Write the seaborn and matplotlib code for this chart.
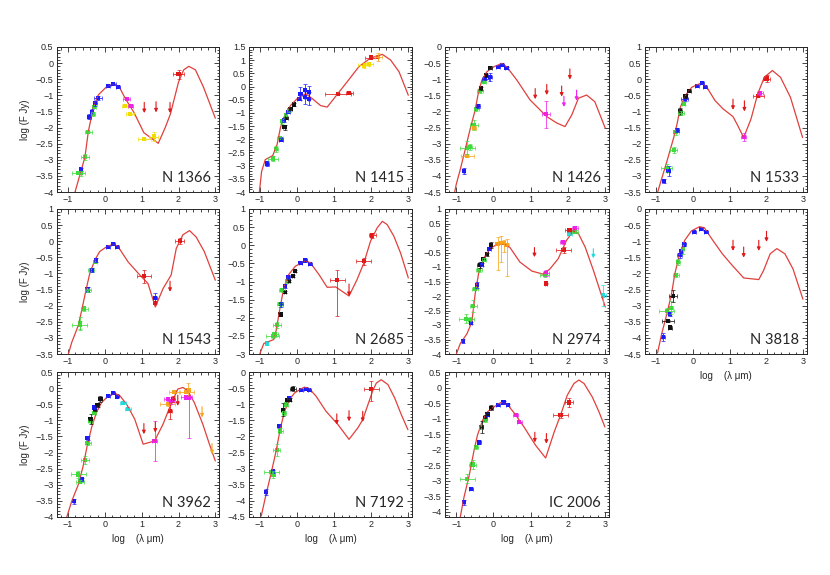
import matplotlib
matplotlib.use("Agg")
import matplotlib.pyplot as plt
from matplotlib.ticker import MultipleLocator, FuncFormatter
import seaborn as sns
import pandas as pd

# band code -> colour of the photometry source
PALETTE = {'b': '#1a1aff', 'g': '#3ddc3d', 'k': '#111111', 'y': '#f2dc00',
           'm': '#ee22ee', 'r': '#e01818', 'o': '#f7a51c', 'c': '#22dddd'}
MODEL_COLOR = '#e0403c'

# ---------------- N 1366
N1366_MX = [-0.81, -0.54, -0.45, -0.31, -0.18, 0.05, 0.23, 0.41, 0.56, 0.79, 1.06, 1.37, 1.45, 1.64, 1.78, 2.0, 2.14, 2.28, 2.46, 2.68, 3.0]
N1366_MY = [-4.0, -2.91, -2.13, -1.35, -0.99, -0.73, -0.65, -0.78, -1.11, -1.53, -2.16, -2.42, -2.49, -2.0, -1.58, -0.59, -0.21, -0.1, -0.21, -0.75, -1.71]
N1366_PTS = [(-0.65, -3.29, 0.03, 0.05, 'b'), (-0.72, -3.40, 0.18, 0.05, 'g'), (-0.66, -3.42, 0.05, 0.08, 'g'),
             (-0.54, -2.92, 0.10, 0.10, 'g'), (-0.45, -2.15, 0.10, 0.03, 'g'), (-0.42, -1.66, 0.04, 0.08, 'b'),
             (-0.36, -1.51, 0.05, 0.08, 'b'), (-0.33, -1.58, 0.05, 0.06, 'g'), (-0.29, -1.35, 0.04, 0.05, 'g'),
             (-0.27, -1.25, 0.05, 0.07, 'b'), (-0.19, -1.09, 0.10, 0.07, 'b'), (0.09, -0.71, 0.06, 0.03, 'b'),
             (0.23, -0.66, 0.06, 0.03, 'b'), (0.36, -0.75, 0.05, 0.03, 'b'), (0.59, -1.12, 0.10, 0.03, 'm'),
             (0.55, -1.33, 0.08, 0.03, 'y'), (0.70, -1.33, 0.07, 0.03, 'm'), (0.68, -1.58, 0.10, 0.03, 'y'),
             (1.07, -2.35, 0.18, 0.03, 'y'), (1.33, -2.28, 0.12, 0.14, 'y'), (2.00, -0.35, 0.15, 0.13, 'r')]
N1366_UL = [(1.07, -1.55, 'r'), (1.39, -1.53, 'r'), (1.77, -1.55, 'r')]

# ---------------- N 1415
N1415_MX = [-1.02, -0.96, -0.86, -0.66, -0.54, -0.45, -0.36, -0.18, 0.0, 0.23, 0.41, 0.63, 0.81, 0.99, 1.35, 1.67, 1.98, 2.3, 2.52, 2.75, 3.0]
N1415_MY = [-4.0, -3.22, -2.77, -2.62, -2.19, -1.55, -1.17, -0.72, -0.46, -0.27, -0.46, -0.72, -0.78, -0.46, 0.18, 0.76, 1.08, 1.22, 1.01, 0.56, -0.33]
N1415_PTS = [(-0.81, -2.92, 0.04, 0.08, 'b'), (-0.65, -2.73, 0.13, 0.10, 'g'), (-0.56, -2.38, 0.05, 0.12, 'g'),
             (-0.47, -1.94, 0.08, 0.04, 'g'), (-0.43, -2.01, 0.05, 0.06, 'b'), (-0.41, -1.32, 0.06, 0.10, 'g'),
             (-0.36, -1.28, 0.04, 0.08, 'b'), (-0.34, -1.55, 0.03, 0.10, 'k'), (-0.31, -1.10, 0.04, 0.08, 'g'),
             (-0.29, -1.19, 0.03, 0.05, 'k'), (-0.24, -0.97, 0.05, 0.05, 'b'), (-0.22, -0.90, 0.05, 0.06, 'g'),
             (-0.18, -0.85, 0.03, 0.05, 'k'), (-0.09, -0.68, 0.04, 0.05, 'k'), (0.05, -0.46, 0.05, 0.05, 'b'),
             (0.09, -0.27, 0.03, 0.25, 'b'), (0.21, -0.14, 0.03, 0.25, 'b'), (0.21, -0.40, 0.03, 0.25, 'b'),
             (0.33, -0.22, 0.03, 0.25, 'b'), (0.33, -0.46, 0.03, 0.25, 'b'), (1.10, -0.27, 0.35, 0.03, 'r'),
             (1.41, -0.26, 0.10, 0.03, 'r'), (1.80, 0.80, 0.15, 0.08, 'y'), (1.95, 0.85, 0.10, 0.08, 'y'),
             (2.00, 1.10, 0.18, 0.03, 'r'), (2.19, 1.12, 0.10, 0.15, 'o')]
N1415_UL = []

# ---------------- N 1426
N1426_MX = [-1.04, -1.0, -0.89, -0.76, -0.63, -0.49, -0.40, -0.31, -0.18, 0.0, 0.22, 0.36, 0.63, 0.98, 1.43, 1.70, 1.92, 2.10, 2.28, 2.50, 2.72, 3.0]
N1426_MY = [-4.5, -4.27, -3.8, -3.19, -2.57, -1.95, -1.39, -1.03, -0.77, -0.62, -0.51, -0.62, -1.03, -1.64, -2.16, -2.36, -2.47, -2.11, -1.59, -1.49, -1.70, -2.52]
N1426_PTS = [(-0.80, -3.85, 0.03, 0.10, 'b'), (-0.70, -3.37, 0.17, 0.03, 'o'), (-0.70, -3.13, 0.20, 0.20, 'g'),
             (-0.62, -3.10, 0.05, 0.10, 'g'), (-0.52, -2.42, 0.10, 0.15, 'g'), (-0.52, -2.50, 0.05, 0.05, 'o'),
             (-0.46, -1.93, 0.07, 0.05, 'g'), (-0.41, -1.83, 0.04, 0.07, 'b'), (-0.36, -1.37, 0.08, 0.05, 'g'),
             (-0.34, -1.28, 0.04, 0.05, 'k'), (-0.25, -1.08, 0.04, 0.05, 'g'), (-0.22, -0.98, 0.10, 0.05, 'b'),
             (-0.20, -0.88, 0.04, 0.05, 'k'), (-0.09, -0.93, 0.04, 0.12, 'b'), (-0.09, -0.64, 0.05, 0.05, 'k'),
             (0.13, -0.62, 0.05, 0.03, 'b'), (0.22, -0.57, 0.05, 0.03, 'b'), (0.35, -0.64, 0.05, 0.03, 'b'),
             (1.41, -2.09, 0.10, 0.42, 'm')]
N1426_UL = [(1.12, -1.62, 'r'), (1.43, -1.49, 'r'), (1.83, -1.54, 'r'), (2.05, -1.01, 'r'),
            (1.89, -1.86, 'm'), (2.23, -1.67, 'm')]

# ---------------- N 1533
N1533_MX = [-0.96, -0.88, -0.70, -0.52, -0.43, -0.34, -0.21, -0.03, 0.24, 0.38, 0.60, 0.82, 1.09, 1.22, 1.38, 1.58, 1.76, 1.94, 2.16, 2.38, 2.65, 2.98]
N1533_MY = [-3.52, -3.21, -2.53, -1.81, -1.39, -0.87, -0.51, -0.25, -0.11, -0.25, -0.66, -0.92, -1.16, -1.44, -1.81, -1.23, -0.46, 0.06, 0.27, 0.06, -0.56, -1.81]
N1533_PTS = [(-0.79, -3.16, 0.04, 0.06, 'b'), (-0.71, -2.76, 0.15, 0.12, 'g'), (-0.66, -2.85, 0.04, 0.15, 'b'),
             (-0.52, -2.19, 0.10, 0.10, 'g'), (-0.47, -1.65, 0.08, 0.08, 'g'), (-0.43, -1.58, 0.04, 0.06, 'b'),
             (-0.34, -1.00, 0.04, 0.12, 'k'), (-0.33, -1.05, 0.08, 0.05, 'g'), (-0.25, -0.76, 0.04, 0.05, 'g'),
             (-0.22, -0.62, 0.10, 0.05, 'b'), (-0.20, -0.52, 0.04, 0.05, 'k'), (-0.10, -0.36, 0.05, 0.05, 'k'),
             (0.11, -0.20, 0.05, 0.03, 'b'), (0.24, -0.13, 0.05, 0.03, 'b'), (0.33, -0.23, 0.05, 0.03, 'b'),
             (1.38, -1.79, 0.07, 0.12, 'm'), (1.78, -0.51, 0.14, 0.03, 'r'), (1.82, -0.42, 0.08, 0.06, 'm'),
             (2.00, 0.02, 0.10, 0.10, 'r')]
N1533_UL = [(1.09, -0.95, 'r'), (1.40, -1.00, 'r')]

# ---------------- N 1543
N1543_MX = [-0.99, -0.90, -0.72, -0.63, -0.51, -0.41, -0.27, -0.14, 0.05, 0.23, 0.36, 0.63, 0.95, 1.17, 1.37, 1.58, 1.80, 1.94, 2.12, 2.30, 2.48, 2.70, 3.0]
N1543_MY = [-3.5, -3.14, -2.61, -2.15, -1.5, -1.0, -0.58, -0.32, -0.17, -0.09, -0.17, -0.64, -1.05, -1.31, -2.04, -1.47, -1.05, -0.22, 0.2, 0.33, 0.13, -0.32, -1.21]
N1543_PTS = [(-0.68, -2.60, 0.20, 0.12, 'g'), (-0.68, -2.55, 0.04, 0.20, 'g'), (-0.56, -2.09, 0.10, 0.06, 'g'),
             (-0.47, -1.50, 0.04, 0.07, 'b'), (-0.45, -1.52, 0.08, 0.05, 'g'), (-0.38, -0.90, 0.08, 0.06, 'g'),
             (-0.36, -0.90, 0.04, 0.06, 'b'), (-0.27, -0.64, 0.05, 0.05, 'g'), (-0.25, -0.58, 0.04, 0.05, 'b'),
             (0.09, -0.17, 0.05, 0.03, 'b'), (0.23, -0.09, 0.05, 0.03, 'b'), (0.33, -0.19, 0.05, 0.03, 'b'),
             (1.06, -1.09, 0.20, 0.20, 'r'), (1.36, -1.76, 0.05, 0.15, 'b'), (1.36, -1.93, 0.03, 0.03, 'r'),
             (2.03, 0.01, 0.12, 0.10, 'r')]
N1543_UL = [(1.77, -1.57, 'r')]

# ---------------- N 2685
N2685_MX = [-1.01, -0.90, -0.63, -0.56, -0.47, -0.36, -0.23, -0.05, 0.23, 0.36, 0.59, 0.81, 1.04, 1.40, 1.62, 1.80, 1.98, 2.16, 2.30, 2.43, 2.61, 2.79, 3.0]
N2685_MY = [-3.0, -2.71, -2.6, -2.32, -1.77, -1.17, -0.81, -0.58, -0.42, -0.49, -0.81, -1.16, -1.15, -1.4, -0.94, -0.49, 0.11, 0.48, 0.66, 0.57, 0.25, -0.21, -0.9]
N2685_PTS = [(-0.81, -2.71, 0.03, 0.03, 'c'), (-0.66, -2.50, 0.17, 0.05, 'g'), (-0.61, -2.46, 0.08, 0.06, 'g'),
             (-0.54, -2.20, 0.10, 0.08, 'g'), (-0.45, -1.91, 0.03, 0.03, 'k'), (-0.47, -1.63, 0.07, 0.07, 'g'),
             (-0.43, -1.63, 0.04, 0.06, 'b'), (-0.41, -1.24, 0.08, 0.06, 'g'), (-0.33, -1.13, 0.04, 0.06, 'b'),
             (-0.32, -1.29, 0.03, 0.03, 'k'), (-0.27, -0.99, 0.05, 0.05, 'g'), (-0.24, -0.87, 0.04, 0.05, 'b'),
             (-0.21, -0.99, 0.03, 0.03, 'k'), (-0.12, -0.84, 0.03, 0.03, 'k'), (-0.05, -0.71, 0.03, 0.03, 'k'),
             (0.09, -0.49, 0.05, 0.03, 'b'), (0.22, -0.42, 0.05, 0.03, 'b'), (0.34, -0.51, 0.05, 0.03, 'b'),
             (1.08, -0.96, 0.20, (0.99, 0.29), 'r'), (1.80, -0.44, 0.20, 0.10, 'r'), (2.03, 0.27, 0.10, 0.08, 'r')]
N2685_UL = [(1.40, -1.40, 'r')]

# ---------------- N 2974
N2974_MX = [-1.0, -0.89, -0.71, -0.58, -0.49, -0.40, -0.27, -0.09, 0.09, 0.27, 0.45, 0.71, 1.03, 1.34, 1.52, 1.74, 1.96, 2.14, 2.28, 2.46, 2.68, 2.90, 3.0]
N2974_MY = [-4.02, -3.64, -3.3, -2.9, -1.92, -1.23, -0.71, -0.37, -0.22, -0.2, -0.34, -0.83, -1.14, -1.25, -1.06, -0.71, -0.08, 0.24, 0.15, -0.31, -1.11, -1.98, -2.38]
N2974_PTS = [(-0.82, -3.56, 0.03, 0.07, 'b'), (-0.73, -2.78, 0.20, 0.15, 'g'), (-0.64, -2.82, 0.05, 0.10, 'g'),
             (-0.61, -2.93, 0.04, 0.05, 'b'), (-0.54, -2.34, 0.10, 0.20, 'g'), (-0.49, -1.75, 0.08, 0.05, 'g'),
             (-0.45, -1.63, 0.04, 0.10, 'b'), (-0.38, -1.11, 0.08, 0.06, 'g'), (-0.36, -0.94, 0.08, 0.10, 'k'),
             (-0.31, -0.91, 0.04, 0.05, 'b'), (-0.27, -0.71, 0.04, 0.05, 'k'), (-0.25, -0.75, 0.05, 0.05, 'g'),
             (-0.18, -0.56, 0.04, 0.05, 'k'), (-0.11, -0.37, 0.04, 0.05, 'b'), (-0.07, -0.25, 0.04, 0.10, 'k'),
             (0.11, -0.20, 0.08, (0.9, 0.25), 'o'), (0.20, -0.18, 0.08, (0.65, 0.25), 'o'),
             (0.28, -0.18, 0.08, (0.3, 0.1), 'o'), (0.35, -0.25, 0.06, (1.05, 0.2), 'o'),
             (1.41, -1.21, 0.07, 0.10, 'm'), (1.38, -1.29, 0.12, 0.06, 'g'), (1.41, -1.57, 0.02, 0.03, 'r'),
             (1.88, -0.40, 0.20, 0.10, 'r'), (1.86, -0.15, 0.07, 0.07, 'm'), (2.04, 0.15, 0.08, 0.05, 'c'),
             (2.04, 0.26, 0.13, 0.03, 'r'), (2.19, 0.34, 0.08, 0.06, 'm'), (2.19, 0.21, 0.08, 0.05, 'g'),
             (2.95, -1.98, 0.07, 0.35, 'c')]
N2974_UL = [(1.10, -0.66, 'r'), (2.68, -0.70, 'c')]

# ---------------- N 3818
N3818_MX = [-0.96, -0.85, -0.71, -0.58, -0.49, -0.36, -0.22, -0.04, 0.18, 0.31, 0.54, 0.80, 1.07, 1.38, 1.79, 1.92, 2.10, 2.28, 2.50, 2.72, 2.99]
N3818_MY = [-4.47, -3.89, -3.27, -2.64, -2.01, -1.39, -0.97, -0.68, -0.55, -0.58, -0.97, -1.39, -1.75, -2.14, -2.19, -1.91, -1.39, -1.23, -1.39, -1.86, -2.8]
N3818_PTS = [(-0.80, -3.98, 0.03, 0.12, 'b'), (-0.67, -3.48, 0.17, 0.03, 'k'), (-0.63, -3.68, 0.05, 0.05, 'k'),
             (-0.71, -3.17, 0.20, 0.10, 'g'), (-0.63, -3.27, 0.04, 0.06, 'b'), (-0.60, -3.06, 0.05, 0.20, 'g'),
             (-0.54, -2.70, 0.10, 0.20, 'k'), (-0.45, -2.05, 0.08, 0.05, 'g'), (-0.40, -1.65, 0.04, 0.10, 'g'),
             (-0.36, -1.44, 0.07, 0.08, 'b'), (-0.33, -1.30, 0.03, 0.06, 'b'), (-0.27, -1.25, 0.04, 0.15, 'g'),
             (-0.25, -1.10, 0.05, 0.05, 'b'), (0.04, -0.71, 0.05, 0.03, 'b'), (0.22, -0.62, 0.05, 0.03, 'b'),
             (0.36, -0.71, 0.05, 0.03, 'b')]
N3818_UL = [(1.09, -1.30, 'r'), (1.38, -1.51, 'r'), (1.79, -1.30, 'r'), (2.00, -1.02, 'r')]

# ---------------- N 3962
N3962_MX = [-1.04, -0.90, -0.72, -0.59, -0.48, -0.36, -0.23, -0.09, 0.05, 0.27, 0.41, 0.59, 0.81, 1.04, 1.35, 1.58, 1.76, 1.98, 2.12, 2.25, 2.43, 2.66, 2.84, 3.0]
N3962_MY = [-4.02, -3.51, -2.99, -2.42, -1.79, -1.22, -0.76, -0.45, -0.29, -0.16, -0.24, -0.5, -0.96, -1.74, -1.64, -1.12, -0.6, -0.03, 0.02, -0.08, -0.45, -1.12, -1.74, -2.26]
N3962_PTS = [(-0.84, -3.51, 0.03, 0.08, 'b'), (-0.63, -2.83, 0.04, 0.05, 'b'), (-0.72, -2.68, 0.20, 0.10, 'g'),
             (-0.68, -2.90, 0.10, 0.05, 'g'), (-0.54, -2.23, 0.10, 0.12, 'g'), (-0.47, -1.71, 0.08, 0.05, 'g'),
             (-0.47, -1.54, 0.04, 0.06, 'b'), (-0.39, -1.02, 0.08, 0.06, 'g'), (-0.39, -0.96, 0.03, 0.15, 'k'),
             (-0.29, -0.76, 0.05, 0.05, 'g'), (-0.27, -0.65, 0.04, 0.05, 'k'), (-0.28, -0.60, 0.04, 0.05, 'b'),
             (-0.20, -0.53, 0.04, 0.05, 'k'), (-0.12, -0.34, 0.04, 0.10, 'k'), (0.09, -0.24, 0.05, 0.03, 'b'),
             (0.23, -0.16, 0.05, 0.03, 'b'), (0.33, -0.26, 0.05, 0.03, 'b'), (0.50, -0.47, 0.08, 0.03, 'c'),
             (0.63, -0.65, 0.08, 0.03, 'c'), (1.35, -1.64, 0.07, 0.62, 'm'), (1.76, -0.71, 0.05, 0.25, 'r'),
             (1.71, -0.50, 0.20, 0.05, 'o'), (1.71, -0.34, 0.10, 0.05, 'm'), (1.80, -0.41, 0.07, 0.08, 'm'),
             (1.85, -0.34, 0.05, 0.08, 'r'), (1.89, -0.11, 0.15, 0.05, 'o'), (2.21, -0.11, 0.20, 0.05, 'o'),
             (2.27, -0.05, 0.05, 0.20, 'o'), (2.21, -0.29, 0.15, 0.05, 'm'), (2.28, -0.29, 0.04, (1.25, 0.05), 'm')]
N3962_UL = [(1.06, -1.43, 'r'), (1.37, -1.38, 'r'), (1.98, -0.55, 'r'), (2.64, -0.91, 'o'), (2.91, -2.05, 'o')]

# ---------------- N 7192
N7192_MX = [-0.97, -0.84, -0.70, -0.57, -0.45, -0.34, -0.21, -0.07, 0.11, 0.20, 0.33, 0.51, 0.78, 1.10, 1.40, 1.64, 1.77, 2.05, 2.14, 2.27, 2.45, 2.63, 2.81, 2.99]
N7192_MY = [-4.47, -3.8, -3.13, -2.46, -1.73, -1.22, -0.86, -0.65, -0.52, -0.47, -0.52, -0.75, -1.22, -1.63, -2.09, -1.73, -1.48, -0.55, -0.34, -0.24, -0.39, -0.8, -1.32, -1.79]
N7192_PTS = [(-0.84, -3.72, 0.03, 0.10, 'b'), (-0.70, -3.10, 0.20, 0.07, 'g'), (-0.66, -3.08, 0.04, 0.05, 'b'),
             (-0.64, -3.18, 0.05, 0.10, 'g'), (-0.55, -2.42, 0.10, 0.20, 'g'), (-0.48, -1.68, 0.05, 0.06, 'b'),
             (-0.46, -1.82, 0.07, 0.08, 'g'), (-0.39, -1.17, 0.04, 0.20, 'k'), (-0.36, -1.27, 0.05, 0.05, 'g'),
             (-0.30, -1.01, 0.05, 0.05, 'g'), (-0.27, -0.86, 0.04, 0.05, 'k'), (-0.23, -0.80, 0.05, 0.05, 'b'),
             (-0.20, -0.86, 0.04, 0.05, 'k'), (-0.12, -0.52, 0.08, 0.08, 'k'), (0.11, -0.55, 0.05, 0.03, 'b'),
             (0.24, -0.52, 0.05, 0.03, 'b'), (0.33, -0.57, 0.05, 0.03, 'b'), (2.00, -0.53, 0.20, (0.38, 0.24), 'r')]
N7192_UL = [(1.07, -1.63, 'r'), (1.40, -1.53, 'r'), (1.77, -1.55, 'r')]

# ---------------- IC 2006
IC2006_MX = [-0.89, -0.79, -0.65, -0.52, -0.43, -0.29, -0.16, 0.02, 0.20, 0.38, 0.60, 0.82, 1.13, 1.40, 1.63, 1.80, 1.98, 2.16, 2.29, 2.43, 2.65, 2.83, 2.99]
IC2006_MY = [-4.17, -3.53, -2.83, -2.02, -1.54, -1.05, -0.78, -0.62, -0.48, -0.55, -0.89, -1.27, -1.86, -2.27, -1.43, -0.89, -0.25, 0.13, 0.24, 0.13, -0.3, -0.78, -1.27]
IC2006_PTS = [(-0.80, -3.69, 0.03, 0.08, 'b'), (-0.70, -2.94, 0.20, 0.15, 'g'), (-0.61, -3.26, 0.05, 0.03, 'b'),
              (-0.56, -2.48, 0.10, 0.15, 'g'), (-0.47, -1.91, 0.06, 0.06, 'g'), (-0.38, -1.77, 0.04, 0.06, 'b'),
              (-0.34, -1.27, 0.05, 0.06, 'g'), (-0.32, -1.27, 0.04, 0.20, 'k'), (-0.23, -0.98, 0.05, 0.08, 'k'),
              (-0.23, -1.05, 0.05, 0.05, 'g'), (-0.16, -0.87, 0.05, 0.05, 'b'), (-0.16, -0.84, 0.04, 0.05, 'k'),
              (-0.07, -0.65, 0.05, 0.08, 'k'), (0.13, -0.55, 0.05, 0.03, 'b'), (0.27, -0.48, 0.05, 0.03, 'b'),
              (0.38, -0.57, 0.05, 0.03, 'b'), (0.60, -0.89, 0.07, 0.03, 'm'), (0.69, -1.11, 0.07, 0.03, 'm'),
              (1.80, -0.89, 0.20, 0.08, 'r'), (2.03, -0.48, 0.10, 0.15, 'r')]
IC2006_UL = [(1.11, -1.77, 'r'), (1.42, -1.81, 'r')]

NAMES = ["N 1366", "N 1415", "N 1426", "N 1533", "N 1543", "N 2685",
         "N 2974", "N 3818", "N 3962", "N 7192", "IC 2006"]
YLIMS = [(-4, 0.5), (-4, 1.5), (-4.5, 0), (-3.5, 1), (-3.5, 1), (-3, 1),
         (-4, 1), (-4.5, 0), (-4, 0.5), (-4.5, 0), (-4.17, 0.5)]

panels = [
    (N1366_MX, N1366_MY, N1366_PTS, N1366_UL),
    (N1415_MX, N1415_MY, N1415_PTS, N1415_UL),
    (N1426_MX, N1426_MY, N1426_PTS, N1426_UL),
    (N1533_MX, N1533_MY, N1533_PTS, N1533_UL),
    (N1543_MX, N1543_MY, N1543_PTS, N1543_UL),
    (N2685_MX, N2685_MY, N2685_PTS, N2685_UL),
    (N2974_MX, N2974_MY, N2974_PTS, N2974_UL),
    (N3818_MX, N3818_MY, N3818_PTS, N3818_UL),
    (N3962_MX, N3962_MY, N3962_PTS, N3962_UL),
    (N7192_MX, N7192_MY, N7192_PTS, N7192_UL),
    (IC2006_MX, IC2006_MY, IC2006_PTS, IC2006_UL),
]

sns.set_style("ticks")
plt.rcParams['font.family'] = ['Liberation Sans', 'DejaVu Sans']

W, H = 830, 575
fig = plt.figure(figsize=(W / 100, H / 100), dpi=100)

# pixel boxes of the panel grid
cols = [(57, 219), (249, 412), (445, 609), (645, 807)]
rows = [(47, 192), (209, 354), (372, 517)]

fmt = FuncFormatter(lambda v, p: ('%g' % round(v, 2)).replace('-', '\u2212'))


def draw_panel(ax, name, mx, my, pts, uls, ylim):
    sns.lineplot(x=mx, y=my, sort=False, estimator=None, color=MODEL_COLOR, lw=0.9, ax=ax)
    df = pd.DataFrame(pts, columns=['x', 'y', 'xe', 'ye', 'band'])
    for _, r in df.iterrows():
        ye = r['ye']
        yerr = [[ye[0]], [ye[1]]] if isinstance(ye, tuple) else ye
        ax.errorbar(r['x'], r['y'], xerr=r['xe'], yerr=yerr, fmt='none',
                    ecolor=PALETTE[r['band']], elinewidth=0.7, capsize=1.3,
                    capthick=0.6, alpha=0.8)
    sns.scatterplot(data=df, x='x', y='y', hue='band', palette=PALETTE, marker='s',
                    s=9, linewidth=0, legend=False, ax=ax)
    for x, y, band in uls:
        ax.annotate('', xy=(x, y), xytext=(x, y + 0.33),
                    arrowprops=dict(arrowstyle='-|>', color=PALETTE[band], lw=0.8,
                                    mutation_scale=5, shrinkA=0, shrinkB=0))
    ax.set_xlim(-1.3, 3.1)
    ax.set_ylim(*ylim)
    ax.xaxis.set_major_locator(MultipleLocator(1))
    ax.xaxis.set_minor_locator(MultipleLocator(0.2))
    ax.yaxis.set_major_locator(MultipleLocator(0.5))
    ax.yaxis.set_minor_locator(MultipleLocator(0.1))
    ax.xaxis.set_major_formatter(fmt)
    ax.yaxis.set_major_formatter(fmt)
    ax.tick_params(which='both', direction='in', top=True, right=True, width=0.6,
                   labelsize=6.5, pad=2.5)
    ax.tick_params(which='major', length=3.5)
    ax.tick_params(which='minor', length=1.8)
    for sp in ax.spines.values():
        sp.set_linewidth(0.7)
    ax.set_xlabel('')
    ax.set_ylabel('')
    ax.text(0.95, 0.05, name, transform=ax.transAxes, ha='right', va='bottom',
            fontsize=10.5, family=['Lato', 'DejaVu Sans'])


for i, (name, ylim, (mx, my, pts, uls)) in enumerate(zip(NAMES, YLIMS, panels)):
    r, c = divmod(i, 4)
    x0, x1 = cols[c]
    y0, y1 = rows[r]
    ax = fig.add_axes([x0 / W, 1 - y1 / H, (x1 - x0) / W, (y1 - y0) / H])
    draw_panel(ax, name, mx, my, pts, uls, ylim)
    if c == 0:
        ax.set_ylabel('log (F Jy)', fontsize=7, labelpad=4)
    if r == 2 or i == 7:
        ax.set_xlabel('log    (\u03bb \u03bcm)', fontsize=7, labelpad=3)

fig.savefig('out.png', dpi=100)
